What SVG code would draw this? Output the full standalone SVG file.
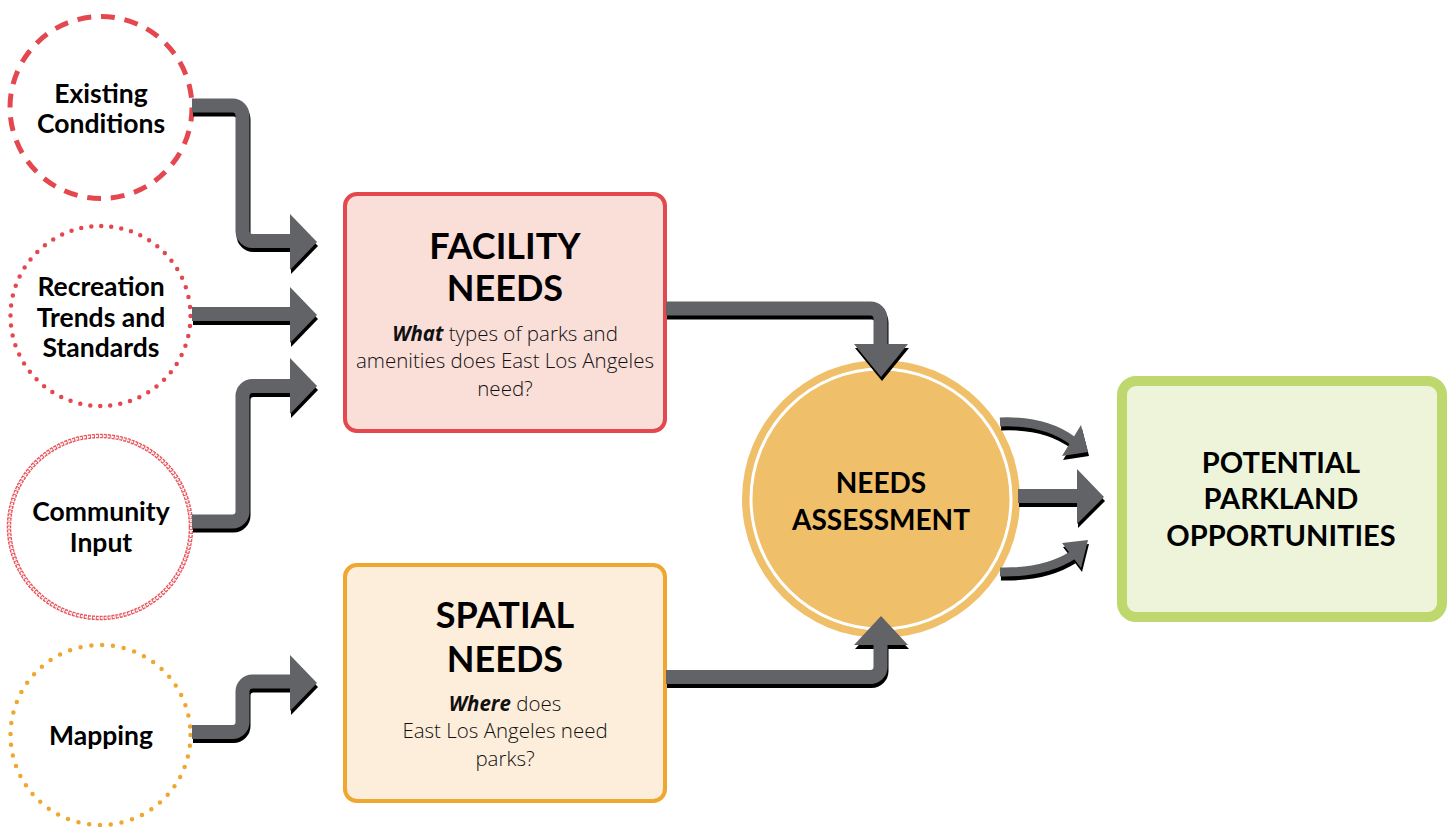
<svg xmlns="http://www.w3.org/2000/svg" xmlns:xlink="http://www.w3.org/1999/xlink" width="1450" height="827" viewBox="0 0 1450 827">
<style>
.title{font-family:"Lato","Liberation Sans",sans-serif;font-weight:700;fill:#000;text-anchor:middle}
.lbl{font-family:"Lato","Liberation Sans",sans-serif;font-weight:700;font-size:26.5px;fill:#000;text-anchor:middle}
.body{font-family:"Open Sans","Liberation Sans",sans-serif;font-weight:300;font-size:20.5px;fill:#111;text-anchor:middle}
.bi{font-weight:700;font-style:italic}
.band{fill:none;stroke-width:14}
.thin{fill:none;stroke-width:9}
.head{stroke:none}
.shadow{fill:#000;stroke:#000}
.arrow{fill:#626366;stroke:#626366}
</style>
<defs>
<g id="arrowShapes">
<path class="band" d="M192 105.5 H232.5 A10 10 0 0 1 242.5 115.5 V231 A10 10 0 0 0 252.5 241 H292"/>
<polygon class="head" points="290,214 317,242 290,270"/>
<path class="band" d="M192 314 H292"/>
<polygon class="head" points="290,287 317,315 290,343"/>
<path class="band" d="M192 521.5 H232.5 A10 10 0 0 0 242.5 511.5 V396 A10 10 0 0 1 252.5 386 H292"/>
<polygon class="head" points="290,358 317,386 290,414"/>
<path class="band" d="M192 732 H232.5 A10 10 0 0 0 242.5 722 V691.5 A10 10 0 0 1 252.5 681.5 H292"/>
<polygon class="head" points="290,655 317,683 290,711"/>
<path class="band" d="M666 308.5 H870.5 A10 10 0 0 1 880.5 318.5 V346"/>
<polygon class="head" points="854,344 908,344 881,377"/>
<path class="band" d="M666 677 H870.5 A10 10 0 0 0 880.5 667 V643"/>
<polygon class="head" points="854,645 908,645 881,616"/>
<path class="band" d="M1018 496 H1079"/>
<polygon class="head" points="1077,469 1104,497 1077,524"/>
<path class="thin" d="M1000 422 Q1045 420 1073 441"/>
<polygon class="head" points="1081,425 1088,452 1062,456"/>
<path class="thin" d="M1000 572 Q1045 573 1073 555"/>
<polygon class="head" points="1062,543 1088,540 1081,568"/>
</g>
</defs>
<rect width="1450" height="827" fill="#fff"/>

<g id="existing-conditions">
<circle cx="101" cy="107.5" r="91" fill="#fff" stroke="#E5474F" stroke-width="5" pathLength="576" stroke-dasharray="14 10"/>
<text class="lbl" x="101" y="103">Existing</text>
<text class="lbl" x="101" y="133">Conditions</text>
</g>

<g id="recreation-trends">
<circle cx="100.5" cy="316" r="90" fill="#fff" stroke="#E5474F" stroke-width="4.5" stroke-linecap="round" stroke-dasharray="0 10.1"/>
<text class="lbl" x="101" y="296">Recreation</text>
<text class="lbl" x="101" y="327">Trends and</text>
<text class="lbl" x="101" y="357">Standards</text>
</g>

<g id="community-input">
<circle cx="100" cy="527" r="91" fill="#fff" stroke="#E8555C" stroke-width="4.5" stroke-dasharray="3 1"/>
<circle cx="100" cy="527" r="91" fill="none" stroke="#fff" stroke-width="1.8" stroke-dasharray="2 2"/>
<text class="lbl" x="101" y="521">Community</text>
<text class="lbl" x="101" y="552">Input</text>
</g>

<g id="mapping">
<circle cx="100.5" cy="735" r="90" fill="#fff" stroke="#EFA72F" stroke-width="4.5" stroke-linecap="round" stroke-dasharray="0 10.9"/>
<text class="lbl" x="101" y="745">Mapping</text>
</g>

<g id="facility-needs">
<rect x="345" y="194" width="320" height="237" rx="12" fill="#FADED8" stroke="#E5474F" stroke-width="4"/>
<text class="title" x="505" y="259" font-size="36">FACILITY</text>
<text class="title" x="505" y="301" font-size="36">NEEDS</text>
<text class="body" x="505" y="341"><tspan class="bi">What</tspan> types of parks and</text>
<text class="body" x="505" y="368">amenities does East Los Angeles</text>
<text class="body" x="505" y="396">need?</text>
</g>

<g id="spatial-needs">
<rect x="345" y="565" width="320" height="236" rx="12" fill="#FDEDDB" stroke="#EFA72F" stroke-width="4"/>
<text class="title" x="505" y="628" font-size="36">SPATIAL</text>
<text class="title" x="505" y="672" font-size="36">NEEDS</text>
<text class="body" x="505" y="711"><tspan class="bi">Where</tspan> does</text>
<text class="body" x="505" y="738">East Los Angeles need</text>
<text class="body" x="505" y="766">parks?</text>
</g>

<g id="needs-assessment">
<circle cx="881" cy="499" r="139" fill="#F0BF69"/>
<circle cx="881" cy="499" r="130" fill="none" stroke="#fff" stroke-width="3"/>
<text class="title" x="881" y="493" font-size="28">NEEDS</text>
<text class="title" x="881" y="530" font-size="28">ASSESSMENT</text>
</g>

<g id="potential-parkland">
<rect x="1122" y="381" width="320" height="236" rx="14" fill="#EEF4DA" stroke="#BED86E" stroke-width="10"/>
<text class="title" x="1281" y="473" font-size="29">POTENTIAL</text>
<text class="title" x="1281" y="509" font-size="29">PARKLAND</text>
<text class="title" x="1281" y="546" font-size="29">OPPORTUNITIES</text>
</g>

<g id="connectors">
<use xlink:href="#arrowShapes" class="shadow" transform="translate(1,4)"/>
<use xlink:href="#arrowShapes" class="arrow"/>
</g>
</svg>
